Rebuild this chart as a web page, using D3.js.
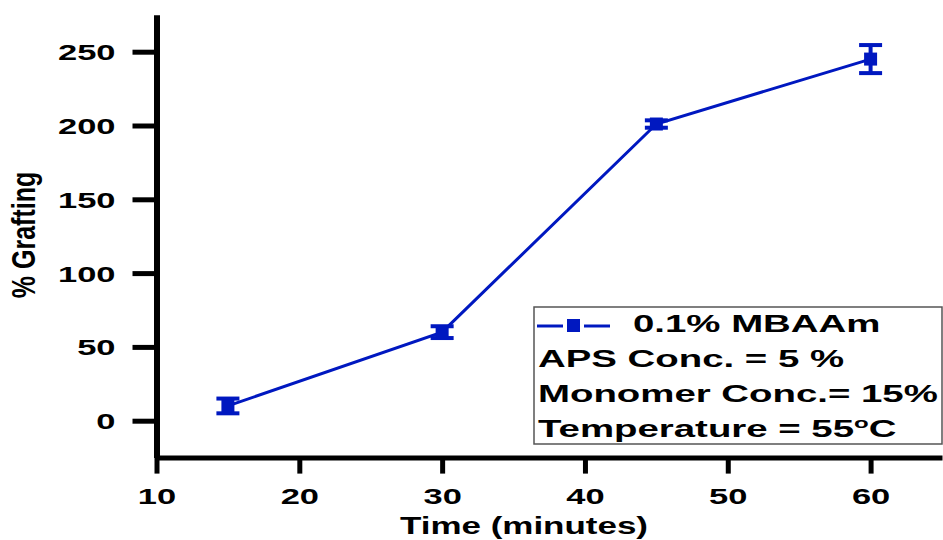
<!DOCTYPE html>
<html>
<head>
<meta charset="utf-8">
<script src="https://cdn.jsdelivr.net/npm/d3@7"></script>
<style>
  html, body { margin: 0; padding: 0; background: #fff; }
  svg { display: block; }
  text { font-family: "Liberation Sans", Arial, sans-serif; font-weight: bold; fill: #000; }
</style>
</head>
<body>
<svg id="chart" width="943" height="540"></svg>
<script>
// Grafting yield versus reaction time
const timeMinutes = [15, 30, 45, 60];
const graftingPct = [10, 60, 201, 245];
const graftingErr = [5, 4, 2.5, 9.5];

const xTicks = [10, 20, 30, 40, 50, 60];
const yTicks = [0, 50, 100, 150, 200, 250];

const seriesName = "0.1% MBAAm";
const conditions = ["APS Conc. = 5 %", "Monomer Conc.= 15%"];
const tempLabel = ["Temperature = 55", "o", "C"];

const xTitle = "Time (minutes)";
const yTitle = "% Grafting";

const blue = "#0018C0";
const stretch = 1.5;       // horizontal glyph stretch for axis text
const legendStretch = 1.6; // horizontal glyph stretch for legend text

const svg = d3.select("#chart");

const x = d3.scaleLinear().domain([10, 65]).range([156.5, 942]);
const y = d3.scaleLinear().domain([-25, 275]).range([457.6, 14.8]);

// Y axis
const yAxis = svg.append("g")
  .attr("transform", `translate(${x(10)},0)`)
  .call(d3.axisLeft(y).tickValues(yTicks).tickSize(24).tickSizeOuter(0).tickPadding(0));
yAxis.select(".domain").attr("stroke", "#000").attr("stroke-width", 6);
yAxis.selectAll(".tick line").attr("stroke", "#000").attr("stroke-width", 5);
yAxis.selectAll(".tick text")
  .attr("x", 0).attr("dy", null).attr("font-size", 23)
  .attr("text-anchor", "end")
  .attr("transform", `translate(-41,8) scale(${stretch},1)`);

// X axis
const xAxis = svg.append("g")
  .attr("transform", `translate(0,${y(-25)})`)
  .call(d3.axisBottom(x).tickValues(xTicks).tickSize(16).tickSizeOuter(0).tickPadding(0));
xAxis.select(".domain").attr("stroke", "#000").attr("stroke-width", 5);
xAxis.selectAll(".tick line").attr("stroke", "#000").attr("stroke-width", 5);
xAxis.selectAll(".tick text")
  .attr("y", 0).attr("dy", null).attr("font-size", 23)
  .attr("text-anchor", "middle")
  .attr("transform", `translate(0,46) scale(${stretch},1)`);

// Axis titles
svg.append("text")
  .attr("font-size", 23).attr("text-anchor", "middle")
  .attr("transform", `translate(524,534) scale(1.52,1)`)
  .text(xTitle);
svg.append("text")
  .attr("font-size", 25).attr("text-anchor", "middle")
  .attr("transform", `translate(35,235) rotate(-90) scale(1,1.3)`)
  .text(yTitle);

// Data series
const pts = timeMinutes.map((t, i) => ({ t, v: graftingPct[i], e: graftingErr[i] }));

svg.append("path")
  .datum(pts)
  .attr("fill", "none").attr("stroke", blue).attr("stroke-width", 3)
  .attr("d", d3.line().x(d => x(d.t)).y(d => y(d.v)));

const eb = svg.append("g").selectAll("g").data(pts).join("g");
eb.append("line")
  .attr("x1", d => x(d.t)).attr("x2", d => x(d.t))
  .attr("y1", d => y(d.v - d.e)).attr("y2", d => y(d.v + d.e))
  .attr("stroke", blue).attr("stroke-width", 4);
eb.selectAll("line.cap").data(d => [[d.t, d.v - d.e], [d.t, d.v + d.e]]).join("line")
  .attr("class", "cap")
  .attr("x1", d => x(d[0]) - 11.5).attr("x2", d => x(d[0]) + 11.5)
  .attr("y1", d => y(d[1])).attr("y2", d => y(d[1]))
  .attr("stroke", blue).attr("stroke-width", 4);
eb.append("rect")
  .attr("x", d => x(d.t) - 6.5).attr("y", d => y(d.v) - 6.5)
  .attr("width", 13).attr("height", 13)
  .attr("fill", blue);

// Legend
const lg = svg.append("g");
lg.append("rect")
  .attr("x", 534).attr("y", 307).attr("width", 408).attr("height", 137)
  .attr("fill", "#fff").attr("stroke", "#555").attr("stroke-width", 1.5);
lg.append("line").attr("x1", 537).attr("x2", 563).attr("y1", 326).attr("y2", 326)
  .attr("stroke", blue).attr("stroke-width", 3);
lg.append("line").attr("x1", 584).attr("x2", 610).attr("y1", 326).attr("y2", 326)
  .attr("stroke", blue).attr("stroke-width", 3);
lg.append("rect").attr("x", 567).attr("y", 319).attr("width", 13).attr("height", 13)
  .attr("fill", blue);
lg.append("text").attr("font-size", 24)
  .attr("transform", `translate(633,332) scale(${legendStretch},1)`)
  .text(seriesName);
conditions.forEach((c, i) => {
  lg.append("text").attr("font-size", 24)
    .attr("transform", `translate(538,${366.7 + 35 * i}) scale(${legendStretch},1)`)
    .text(c);
});
const tt = lg.append("text").attr("font-size", 24)
  .attr("transform", `translate(538,436.7) scale(${legendStretch},1)`);
tt.append("tspan").text(tempLabel[0]);
tt.append("tspan").attr("font-size", 15).attr("dy", -9).text(tempLabel[1]);
tt.append("tspan").attr("dy", 9).text(tempLabel[2]);
</script>
</body>
</html>
